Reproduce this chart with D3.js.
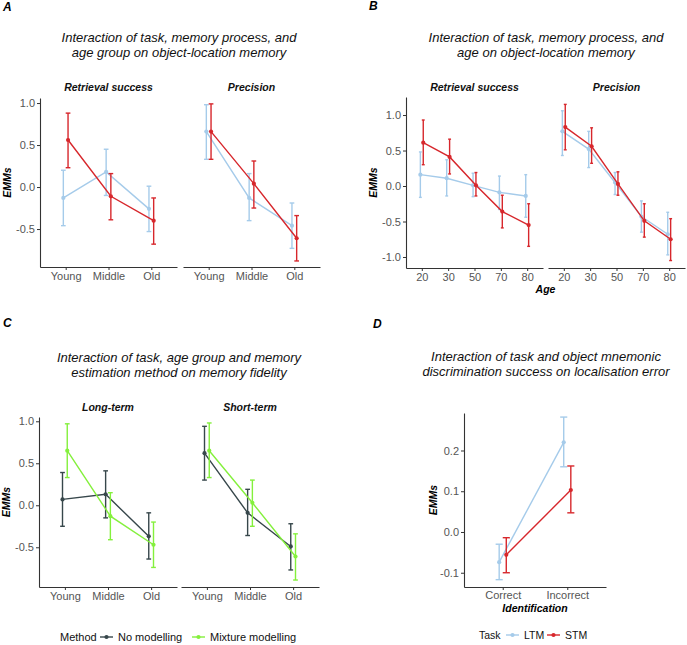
<!DOCTYPE html>
<html><head><meta charset="utf-8">
<script src="https://cdn.jsdelivr.net/npm/d3@7"></script>
<style>
body{margin:0;background:#fff}
svg{display:block}
text{font-family:"Liberation Sans",Arial,Helvetica,sans-serif}
</style>
</head><body><svg id="c" width="687" height="645"></svg>
<script>
// ---------- categories ----------
const ageGroups = ["Young", "Middle", "Old"];
const ageYears = ["20", "30", "50", "70", "80"];
const identification = ["Correct", "Incorrect"];
const memoryProcesses = ["Retrieval success", "Precision"];
const termLevels = ["Long-term", "Short-term"];
const taskLevels = ["LTM", "STM"];
const methodLevels = ["No modelling", "Mixture modelling"];

// ---------- tick labels ----------
const ticksABC = [-1.0, -0.5, 0.0, 0.5, 1.0];
const ticksD = [-0.1, 0.0, 0.1, 0.2];

// ---------- values: [EMM, lower CI, upper CI] ----------
// Panel A
const aRetrievalLTM = [[-0.13, -0.46, 0.20], [0.18, -0.10, 0.45], [-0.26, -0.53, 0.01]];
const aRetrievalSTM = [[0.56, 0.23, 0.88], [-0.11, -0.39, 0.16], [-0.40, -0.68, -0.13]];
const aPrecisionLTM = [[0.66, 0.33, 0.98], [-0.13, -0.40, 0.16], [-0.46, -0.73, -0.19]];
const aPrecisionSTM = [[0.66, 0.33, 0.99], [0.04, -0.25, 0.31], [-0.61, -0.88, -0.34]];
// Panel B
const bRetrievalLTM = [[0.16, -0.16, 0.48], [0.11, -0.14, 0.37], [0.01, -0.15, 0.18], [-0.09, -0.33, 0.14], [-0.14, -0.44, 0.16]];
const bRetrievalSTM = [[0.61, 0.30, 0.93], [0.41, 0.17, 0.66], [0.01, -0.14, 0.19], [-0.36, -0.59, -0.13], [-0.55, -0.85, -0.25]];
const bPrecisionLTM = [[0.77, 0.43, 1.06], [0.52, 0.26, 0.77], [0.05, -0.12, 0.19], [-0.43, -0.65, -0.21], [-0.68, -0.97, -0.37]];
const bPrecisionSTM = [[0.83, 0.51, 1.15], [0.56, 0.32, 0.82], [0.03, -0.13, 0.20], [-0.49, -0.72, -0.25], [-0.75, -1.05, -0.46]];
// Panel C
const cLongNoModel = [[0.07, -0.25, 0.39], [0.13, -0.15, 0.41], [-0.37, -0.64, -0.09]];
const cLongMixture = [[0.65, 0.33, 0.97], [-0.13, -0.41, 0.15], [-0.47, -0.74, -0.20]];
const cShortNoModel = [[0.62, 0.30, 0.94], [-0.09, -0.36, 0.19], [-0.49, -0.77, -0.22]];
const cShortMixture = [[0.65, 0.33, 0.98], [0.03, -0.25, 0.30], [-0.61, -0.89, -0.34]];
// Panel D
const dLTM = [[-0.074, -0.117, -0.030], [0.220, 0.160, 0.282]];
const dSTM = [[-0.056, -0.100, -0.014], [0.103, 0.047, 0.162]];

// ---------- style ----------
const colLTM = "#A5CBEA", colSTM = "#D7272C";
const colNoModel = "#37474B", colMixture = "#84F03C";
const axisCol = "#333333", tickTextCol = "#555555";
const fmt = v => d3.format(".1f")(v).replace("\u2212", "-");

const svg = d3.select("#c");

function panelLabel(t, x, y) {
  svg.append("text").attr("x", x).attr("y", y).text(t)
    .attr("font-size", 12).attr("font-weight", "bold").attr("font-style", "italic").attr("fill", "#000");
}
function title(lines, cx, y0) {
  lines.forEach((l, i) => svg.append("text").attr("x", cx).attr("y", y0 + i * 15)
    .attr("text-anchor", "middle").attr("font-size", 13).attr("font-style", "italic").attr("fill", "#111").text(l));
}

function facetPlot(cfg) {
  const g = svg.append("g");
  const y = d3.scaleLinear().domain(cfg.yDomain).range([cfg.yBottom, cfg.yTop]);
  const x0 = cfg.facets[0].x0;
  // y axis
  const ya = g.append("g").attr("transform", `translate(${x0},0)`)
    .call(d3.axisLeft(y).tickValues(cfg.yTicks.filter(t => t >= cfg.yDomain[0] && t <= cfg.yDomain[1]))
      .tickSize(3).tickSizeOuter(0).tickPadding(2).tickFormat(fmt));
  ya.select(".domain").attr("stroke", axisCol).attr("stroke-width", 1.1);
  ya.selectAll(".tick line").attr("stroke", axisCol);
  ya.selectAll(".tick text").attr("fill", tickTextCol).attr("font-size", 11).attr("font-family", "Liberation Sans, Arial, sans-serif");
  // y title
  g.append("text").attr("transform", `translate(${cfg.yTitleX},${(cfg.yTop + cfg.yBottom) / 2}) rotate(-90)`)
    .attr("text-anchor", "middle").attr("font-size", 10.5).attr("font-weight", "bold").attr("font-style", "italic")
    .attr("fill", "#000").text("EMMs");

  cfg.facets.forEach(f => {
    const x = d3.scalePoint().domain(cfg.cats).range([f.x0, f.x1]).padding(0.6);
    const step = x.step();
    const xa = g.append("g").attr("transform", `translate(0,${cfg.yBottom})`)
      .call(d3.axisBottom(x).tickSize(3).tickSizeOuter(0).tickPadding(cfg.xTickPad || 2));
    xa.select(".domain").attr("stroke", axisCol).attr("stroke-width", 1.1);
    xa.selectAll(".tick line").attr("stroke", axisCol);
    xa.selectAll(".tick text").attr("fill", tickTextCol).attr("font-size", 11).attr("font-family", "Liberation Sans, Arial, sans-serif");
    if (f.label) {
      g.append("text").attr("x", (f.x0 + f.x1) / 2).attr("y", cfg.stripY).attr("text-anchor", "middle")
        .attr("font-size", 10.5).attr("font-weight", "bold").attr("font-style", "italic").attr("fill", "#111").text(f.label);
    }
    const n = f.series.length;
    const pts = f.series.map((s, i) => s.data.map((d, j) => ({
      x: x(cfg.cats[j]) + (i - (n - 1) / 2) * 0.11 * step,
      m: d[0], lo: d[1], hi: d[2], color: s.color
    })));
    const cap = 0.055 * step;
    pts.forEach(arr => {
      const c = arr[0].color;
      g.append("path").attr("d", d3.line().x(p => p.x).y(p => y(p.m))(arr))
        .attr("fill", "none").attr("stroke", c).attr("stroke-width", 1.4);
      arr.forEach(p => {
        g.append("line").attr("x1", p.x).attr("x2", p.x).attr("y1", y(p.lo)).attr("y2", y(p.hi)).attr("stroke", c).attr("stroke-width", 1.4);
        g.append("line").attr("x1", p.x - cap).attr("x2", p.x + cap).attr("y1", y(p.lo)).attr("y2", y(p.lo)).attr("stroke", c).attr("stroke-width", 1.4);
        g.append("line").attr("x1", p.x - cap).attr("x2", p.x + cap).attr("y1", y(p.hi)).attr("y2", y(p.hi)).attr("stroke", c).attr("stroke-width", 1.4);
        g.append("circle").attr("cx", p.x).attr("cy", y(p.m)).attr("r", 2.1).attr("fill", c);
      });
    });
  });
  if (cfg.xTitle) {
    const xc = (cfg.facets[0].x0 + cfg.facets[cfg.facets.length - 1].x1) / 2;
    g.append("text").attr("x", xc).attr("y", cfg.xTitleY).attr("text-anchor", "middle")
      .attr("font-size", 10.5).attr("font-weight", "bold").attr("font-style", "italic").attr("fill", "#000").text(cfg.xTitle);
  }
}

function legend(titleText, items, x, y, gapAfterTitle, itemGaps, fs) {
  const g = svg.append("g");
  g.append("text").attr("x", x).attr("y", y + 4).attr("font-size", fs).attr("fill", "#111").text(titleText);
  let cx = x + gapAfterTitle;
  items.forEach((it, i) => {
    g.append("line").attr("x1", cx).attr("x2", cx + 13).attr("y1", y).attr("y2", y).attr("stroke", it.color).attr("stroke-width", 1.4);
    g.append("circle").attr("cx", cx + 6.5).attr("cy", y).attr("r", 2.1).attr("fill", it.color);
    g.append("text").attr("x", cx + 18).attr("y", y + 4).attr("font-size", fs).attr("fill", "#111").text(it.label);
    cx += itemGaps[i];
  });
}

// ---------- Panel A ----------
panelLabel("A", 3, 11);
title(["Interaction of task, memory process, and", "age group on object-location memory"], 179, 42);
facetPlot({
  cats: ageGroups, yDomain: [-0.952, 1.06], yBottom: 267, yTop: 98, yTicks: ticksABC, yTitleX: 11, stripY: 91,
  facets: [
    { label: memoryProcesses[0], x0: 40, x1: 177, series: [{ data: aRetrievalLTM, color: colLTM }, { data: aRetrievalSTM, color: colSTM }] },
    { label: memoryProcesses[1], x0: 183, x1: 320, series: [{ data: aPrecisionLTM, color: colLTM }, { data: aPrecisionSTM, color: colSTM }] }
  ]
});

// ---------- Panel B ----------
panelLabel("B", 369, 10);
title(["Interaction of task, memory process, and", "age on object-location memory"], 546, 42);
facetPlot({
  cats: ageYears, yDomain: [-1.155, 1.254], yBottom: 268, yTop: 97, yTicks: ticksABC, yTitleX: 377, stripY: 91,
  xTitle: "Age", xTitleY: 293,
  facets: [
    { label: memoryProcesses[0], x0: 406, x1: 543, series: [{ data: bRetrievalLTM, color: colLTM }, { data: bRetrievalSTM, color: colSTM }] },
    { label: memoryProcesses[1], x0: 548, x1: 685, series: [{ data: bPrecisionLTM, color: colLTM }, { data: bPrecisionSTM, color: colSTM }] }
  ]
});

// ---------- Panel C ----------
panelLabel("C", 3, 327);
title(["Interaction of task, age group and memory", "estimation method on memory fidelity"], 179, 362);
facetPlot({
  cats: ageGroups, yDomain: [-0.973, 1.051], yBottom: 587, yTop: 417, yTicks: ticksABC, yTitleX: 10, stripY: 411,
  facets: [
    { label: termLevels[0], x0: 39, x1: 177, series: [{ data: cLongNoModel, color: colNoModel }, { data: cLongMixture, color: colMixture }] },
    { label: termLevels[1], x0: 181, x1: 319, series: [{ data: cShortNoModel, color: colNoModel }, { data: cShortMixture, color: colMixture }] }
  ]
});
legend("Method", [{ label: methodLevels[0], color: colNoModel }, { label: methodLevels[1], color: colMixture }], 60, 637, 40, [92], 11);

// ---------- Panel D ----------
panelLabel("D", 373, 328);
title(["Interaction of task and object mnemonic", "discrimination success on localisation error"], 546, 361);
facetPlot({
  cats: identification, yDomain: [-0.135, 0.292], yBottom: 587, yTop: 413, yTicks: ticksD, yTitleX: 437, stripY: 0,
  xTitle: "Identification", xTitleY: 612, xTickPad: 1,
  facets: [
    { label: null, x0: 464, x1: 606, series: [{ data: dLTM, color: colLTM }, { data: dSTM, color: colSTM }] }
  ]
});
legend("Task", [{ label: taskLevels[0], color: colLTM }, { label: taskLevels[1], color: colSTM }], 479, 635, 27, [41], 10.5);
</script>
</body></html>
